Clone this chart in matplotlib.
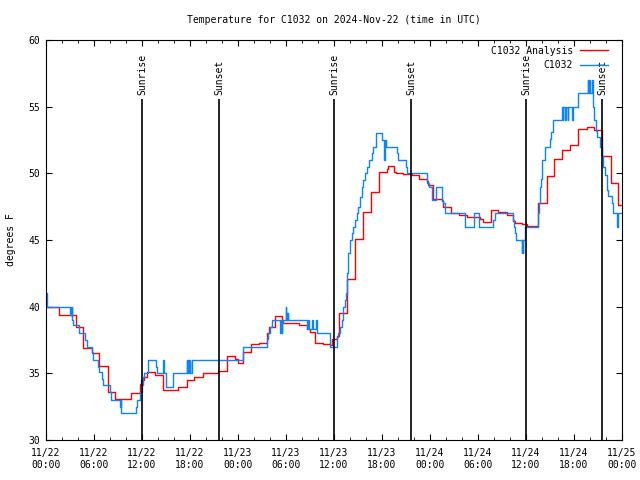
import numpy as np
import pandas as pd
import matplotlib
matplotlib.use("Agg")
import matplotlib.pyplot as plt
import matplotlib.dates as mdates

# hours after 2024-11-22 00:00 UTC, value holds until next change
obs_hours = [0.0, 0.12, 3.05, 3.1, 3.15, 3.2, 3.29, 3.42, 4.17, 4.88, 5.08, 5.79, 5.92,
             6.46, 6.62, 7.0, 7.17, 8.0, 8.17, 9.25, 9.33, 9.42, 11.21, 11.33, 11.75,
             11.96, 12.1, 12.29, 12.71, 13.75, 13.92, 14.62, 14.7, 15.05, 15.83, 15.92,
             17.58, 17.65, 17.75, 17.83, 17.96, 18.04, 18.21, 24.58, 27.67, 27.8, 28.0,
             28.21, 29.3, 29.38, 29.46, 29.54, 30.0, 30.04, 30.12, 30.17, 30.21, 30.25,
             32.67, 32.8, 32.92, 33.2, 33.42, 33.75, 33.92, 35.5, 36.33, 36.54, 36.75,
             36.96, 37.17, 37.35, 37.5, 37.58, 37.79, 38.0, 38.21, 38.42, 38.62, 38.83,
             39.0, 39.25, 39.46, 39.67, 39.88, 40.1, 40.42, 40.71, 40.92, 41.21, 42.04,
             42.29, 42.38, 42.5, 43.83, 44.04, 45.0, 45.17, 47.67, 47.88, 48.21, 48.75,
             49.46, 49.67, 49.88, 52.38, 53.5, 54.17, 55.92, 56.12, 58.42, 58.5, 58.62,
             58.75, 59.46, 59.54, 59.62, 59.67, 59.88, 61.46, 61.62, 61.75, 61.88, 61.96,
             62.38, 63.0, 63.12, 63.42, 64.46, 64.6, 64.67, 64.9, 65.0, 65.2, 65.29,
             65.75, 65.85, 66.54, 67.71, 67.8, 67.9, 68.0, 68.2, 68.33, 68.42, 68.54,
             68.7, 68.83, 69.25, 69.46, 69.67, 69.88, 70.08, 70.29, 70.71, 70.92, 71.33,
             71.42, 71.54, 72.0]
obs_temp = [41.0, 40.0, 39.4, 40.0, 39.4, 40.0, 39.0, 38.6, 38.0, 37.5, 37.0, 36.6, 36.0,
            35.5, 35.1, 34.6, 34.1, 33.6, 33.0, 32.5, 33.0, 32.0, 32.5, 33.0, 33.6,
            34.1, 34.7, 35.0, 36.0, 35.5, 35.0, 36.0, 35.0, 34.0, 34.5, 35.0,
            36.0, 35.0, 36.0, 35.0, 36.0, 35.0, 36.0, 37.0, 37.6, 38.0, 38.5,
            39.0, 38.0, 39.0, 38.0, 39.0, 40.0, 39.0, 39.5, 39.0, 39.5, 39.0,
            38.3, 39.0, 38.3, 39.0, 38.3, 39.0, 38.0, 37.0, 37.75, 38.0, 38.5,
            39.0, 40.0, 40.5, 41.0, 42.5, 44.0, 45.0, 45.5, 46.0, 46.5, 47.0,
            47.5, 48.2, 49.0, 49.5, 50.0, 50.5, 51.0, 51.5, 52.0, 53.0, 52.5,
            51.0, 52.5, 52.0, 51.5, 51.0, 50.5, 50.0, 49.25, 49.0, 48.0, 49.0,
            48.0, 47.8, 47.0, 46.0, 47.0, 46.0, 46.5, 47.0, 46.5, 46.0, 45.5,
            45.0, 44.0, 45.0, 44.0, 45.0, 46.0, 47.0, 47.75, 49.0, 49.6, 51.0,
            52.0, 52.6, 53.1, 54.0, 55.0, 54.0, 55.0, 54.0, 55.0, 54.0, 55.0,
            54.0, 55.0, 56.0, 57.0, 56.0, 57.0, 56.0, 57.0, 56.0, 55.0, 54.0,
            53.2, 52.75, 52.0, 51.3, 50.5, 49.9, 48.75, 48.3, 47.75, 47.0, 46.5,
            46.0, 47.0, 47.0]

ana_hours = [0.0, 1.67, 3.71, 4.67, 5.71, 6.67, 7.71, 8.67, 10.67, 11.71, 11.88, 12.25,
             12.67, 13.62, 14.58, 16.54, 17.58, 18.5, 19.58, 21.54, 22.58, 23.62, 24.04,
             24.58, 25.58, 26.67, 27.58, 27.92, 28.62, 29.46, 29.58, 30.71, 31.67, 32.58,
             33.0, 33.62, 34.58, 35.5, 35.71, 36.42, 36.58, 37.58, 38.62, 39.58, 39.67,
             40.58, 41.67, 42.58, 42.79, 43.5, 43.71, 44.67, 45.71, 46.67, 47.58, 47.79,
             48.42, 49.46, 49.67, 50.58, 51.67, 52.58, 54.25, 54.58, 55.58, 56.54, 57.58,
             58.42, 58.62, 59.54, 60.08, 61.46, 62.58, 63.54, 64.54, 65.5, 66.54, 67.58,
             68.54, 69.54, 70.58, 71.54, 72.0]
ana_temp = [40.0, 39.4, 38.45, 36.9, 36.55, 35.55, 33.6, 33.05, 33.5, 34.2, 34.5, 34.7,
            35.1, 34.9, 33.75, 33.95, 34.5, 34.75, 35.0, 35.2, 36.3, 36.1, 35.8,
            36.6, 37.2, 37.3, 38.05, 38.5, 39.3, 39.0, 38.8, 38.75, 38.6, 38.3,
            38.1, 37.25, 37.2, 37.1, 37.6, 37.8, 39.5, 42.05, 45.1, 46.05, 47.1,
            48.6, 50.1, 50.3, 50.55, 50.1, 50.05, 49.95, 49.85, 49.6, 49.4, 49.1,
            48.05, 47.9, 47.45, 47.05, 46.9, 46.7, 46.6, 46.35, 47.25, 47.1, 46.9,
            46.45, 46.3, 46.2, 46.05, 47.8, 49.8, 51.1, 51.75, 52.1, 53.3, 53.5,
            53.25, 51.3, 49.25, 47.6, 47.6]

sunrise_hours = [12.0, 36.0, 60.0]
sunset_hours = [21.62, 45.62, 69.5]

start = pd.Timestamp("2024-11-22 00:00")


def to_time(hours):
    return start + pd.to_timedelta(np.array(hours), unit="h")


plt.rcParams["font.family"] = ["DejaVu Sans Mono"]
plt.rcParams["font.size"] = 7

fig = plt.figure(figsize=(6.4, 4.8), dpi=100)
ax = fig.add_axes([46 / 640, 40 / 480, 576 / 640, 400 / 480])

ax.step(to_time(ana_hours), ana_temp, where="post", color="#ff0000", lw=1.0,
        label="C1032 Analysis")
ax.step(to_time(obs_hours), obs_temp, where="post", color="#0a84ff", lw=1.0,
        label="C1032")

# sunrise / sunset markers
for hrs, name in [(sunrise_hours, "Sunrise"), (sunset_hours, "Sunset")]:
    for t in to_time(hrs):
        ax.vlines(t, 30, 55.6, color="black", lw=1.2)
        ax.text(t, 55.9, name, rotation=90, ha="center", va="bottom")

ax.set_xlim(start, start + pd.Timedelta(hours=72))
ax.set_ylim(30, 60)
ax.set_yticks(np.arange(30, 61, 5))
ax.xaxis.set_major_locator(mdates.HourLocator(byhour=[0, 6, 12, 18]))
ax.xaxis.set_minor_locator(mdates.HourLocator(byhour=range(0, 24, 2)))
ax.xaxis.set_major_formatter(mdates.DateFormatter("%m/%d\n%H:%M"))
ax.tick_params(which="both", direction="in", top=True, right=True)
ax.tick_params(which="major", length=4, pad=6)
ax.tick_params(which="minor", length=2)
ax.tick_params(axis="y", pad=4)

ax.set_title("Temperature for C1032 on 2024-Nov-22 (time in UTC)", fontsize=7, pad=12)
ax.set_ylabel("degrees F")
ax.yaxis.set_label_coords(-0.052, 0.5)

ax.legend(loc="upper right", bbox_to_anchor=(1 - 8 / 576, 1), frameon=False,
          markerfirst=False, handlelength=2.9, handletextpad=0.7, labelspacing=0.45,
          borderaxespad=0.3, borderpad=0.3)

fig.savefig("out.png", dpi=100)
